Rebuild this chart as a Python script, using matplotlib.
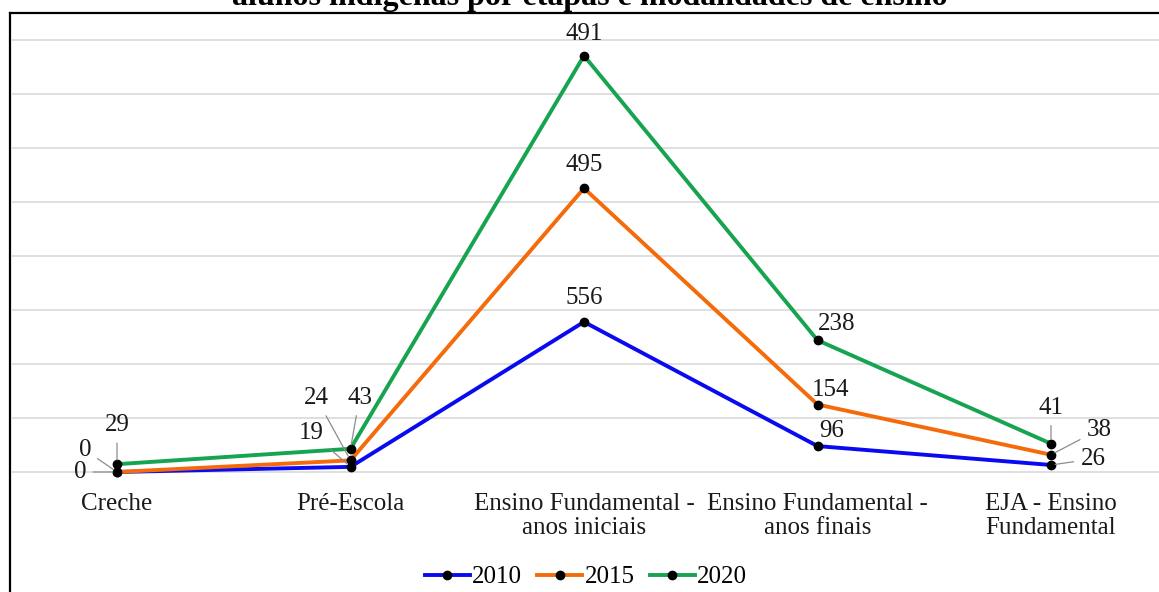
# stacked line chart - alunos indigenas por etapas e modalidades de ensino

import matplotlib
matplotlib.use('Agg')
import matplotlib.pyplot as plt
from matplotlib.lines import Line2D
import numpy as np

# data
etapas = ['Creche', 'Pré-Escola', 'Ensino Fundamental -\nanos iniciais',
          'Ensino Fundamental -\nanos finais', 'EJA - Ensino\nFundamental']
anos = ['2010', '2015', '2020']
v2010 = [0, 19, 556, 96, 26]
v2015 = [0, 24, 495, 154, 38]
v2020 = [29, 43, 491, 238, 41]
cores = ['#0a0af0', '#f56a0a', '#17a450']
titulo = 'alunos indígenas por etapas e modalidades de ensino'

# label offsets in pixels (dx, dy) and whether a leader line is drawn
offsets = [
    [(-37, 0), (-39, 34), (0, 24), (14, 15), (42, 6)],
    [(-32, 22), (-34, 62), (0, 23), (13, 15), (48, 25)],
    [(0, 39), (9, 51), (0, 22), (19, 16), (0, 36)],
]
leaders = [True, True, False, False, True]

W, H = 1159, 592
plt.rcParams['font.family'] = ['Liberation Serif', 'DejaVu Serif']

fig = plt.figure(figsize=(W / 100, H / 100), dpi=100)
# axes: x=12..1159 px, y=14..480 px
ax = fig.add_axes([12 / W, 1 - 480 / H, (W - 12) / W, (480 - 14) / H])

x = np.arange(len(etapas))
series = np.cumsum(np.array([v2010, v2015, v2020]), axis=0)
valores = [v2010, v2015, v2020]

for i in range(3):
    ax.plot(x, series[i], '-', color=cores[i], lw=2.8, marker='o', ms=6,
            mfc='black', mec='black', label=anos[i], clip_on=False, zorder=3)
    for j in range(len(etapas)):
        dx, dy = offsets[i][j]
        arrow = None
        if leaders[j]:
            arrow = dict(arrowstyle='-', color='#8c8c8c', lw=0.9,
                         shrinkA=3, shrinkB=3)
        ax.annotate(str(valores[i][j]), (x[j], series[i][j]),
                    xytext=(dx, dy), textcoords='offset pixels',
                    ha='center', va='center', fontsize=18,
                    color='#1a1a1a', arrowprops=arrow, zorder=4)

# scales: x 0 -> 117 px, 233.5 px per category; y 0 -> 472 px, 1600 -> 40 px
ax.set_xlim(-(117 - 12) / 233.5, 4 + (1159 - 1051) / 233.5)
upp = 1600 / 432
ax.set_ylim(-(480 - 472) * upp, (472 - 14) * upp)

ax.set_yticks(np.arange(0, 1601, 200))
ax.grid(axis='y', color='#d9d9d9', lw=1.2)
ax.set_axisbelow(True)
ax.tick_params(left=False, labelleft=False, bottom=False)
ax.set_xticks(x)
ax.set_xticklabels(etapas, fontsize=18, color='#1a1a1a')
for t in ax.get_xticklabels():
    t.set_linespacing(1.12)
ax.tick_params(axis='x', pad=6)
for s in ax.spines.values():
    s.set_visible(False)

# legend
fig.legend(loc='center', bbox_to_anchor=(586 / W, 1 - 577 / H), ncol=3,
           frameon=False, fontsize=18, handlelength=1.8, handletextpad=0.1,
           columnspacing=0.6)

# chart frame
fig.add_artist(Line2D([10 / W, 10 / W], [0, 1 - 13 / H], color='black', lw=1.6,
                      transform=fig.transFigure))
fig.add_artist(Line2D([10 / W, 1], [1 - 13 / H, 1 - 13 / H], color='black', lw=1.6,
                      transform=fig.transFigure))

# title (cut at the top as in the original)
fig.text(590 / W, 1 - 5 / H, titulo, ha='center', va='baseline', fontsize=23,
         fontweight='bold')

fig.savefig('out.png', dpi=100)
